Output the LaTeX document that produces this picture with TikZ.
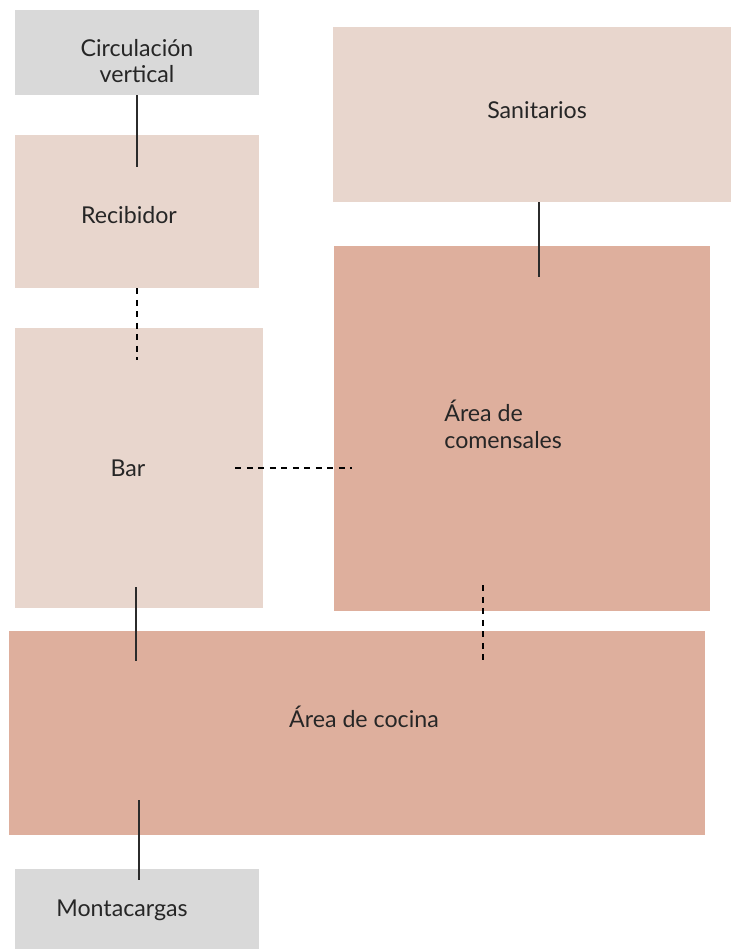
\documentclass[tikz,border=0pt]{standalone}
\usepackage{fontspec}
\setmainfont{Lato}
\usetikzlibrary{positioning, calc}
\definecolor{gris}{HTML}{D9D9D9}
\definecolor{rosa}{HTML}{E8D6CD}
\definecolor{salmon}{HTML}{DEAF9D}
\definecolor{trazo}{HTML}{2B2B2B}

\begin{document}
\begin{tikzpicture}[
  x=0.02cm, y=-0.02cm,
  caja/.style 2 args={inner sep=0pt, minimum width=#1*0.02cm, minimum height=#2*0.02cm},
  rotulo/.style={font=\fontsize{13.2}{15.3}\selectfont, text=black!85, align=center, inner sep=0pt},
  enlace/.style={trazo, line width=0.75pt},
  punteado/.style={black, line width=0.9pt, dash pattern=on 0.12cm off 0.11cm}
]
\useasboundingbox (0,0) rectangle (731,949);
% zonas
\node[caja={244}{85},  fill=gris]   (circ)  at (137,52.5) {};
\node[caja={244}{153}, fill=rosa]   (recib) at (137,211.5) {};
\node[caja={248}{280}, fill=rosa]   (bar)   at (139,468) {};
\node[caja={398}{175}, fill=rosa]   (sanit) at (532,114.5) {};
\node[caja={376}{365}, fill=salmon] (comen) at (522,428.5) {};
\node[caja={696}{204}, fill=salmon] (cocina) at (357,733) {};
\node[caja={244}{80},  fill=gris]   (monta) at (137,909) {};
% rotulos
\node[rotulo] (t-circ)  at (137,61)  {Circulación\\vertical};
\node[rotulo] (t-recib) at (129,215) {Recibidor};
\node[rotulo] (t-bar)   at (128,468) {Bar};
\node[rotulo] (t-sanit) at (537,110) {Sanitarios};
\node[rotulo, align=left, anchor=west] (t-comen) at (444,424) {Área de\\comensales};
\node[rotulo] (t-cocina) at (364,717) {Área de cocina};
\node[rotulo] (t-monta)  at (122,910) {Montacargas};
% relaciones
\draw[enlace] (circ.south) -- ($(recib.north)+(0,32)$);
\draw[punteado] (recib.south) -- ($(recib.south)+(0,72)$);
\draw[punteado] ($(bar.east)+(-28,0)$) -- ($(bar.east -| comen.west)+(18,0)$);
\draw[enlace] ($(sanit.south)+(7,0)$) -- ($(comen.north)+(17,31)$);
\draw[punteado] ($(comen.south)+(-39,-26)$) -- ($(cocina.north)+(126,31)$);
\draw[enlace] ($(bar.south)+(-3,-21)$) -- ($(bar.south |- cocina.north)+(-3,30)$);
\draw[enlace] ($(monta.north |- cocina.south)+(2,-35)$) -- ($(monta.north)+(2,11)$);
\end{tikzpicture}
\end{document}
